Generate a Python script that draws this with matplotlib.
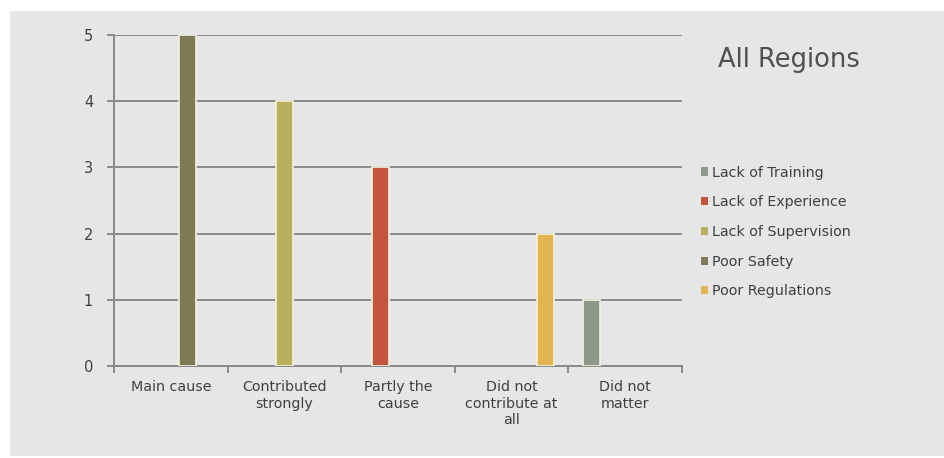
import numpy as np
import matplotlib.pyplot as plt
from matplotlib.patches import Rectangle

categories = ['Main cause', 'Contributed\nstrongly', 'Partly the\ncause',
              'Did not\ncontribute at\nall', 'Did not\nmatter']
series = ['Lack of Training', 'Lack of Experience', 'Lack of Supervision',
          'Poor Safety', 'Poor Regulations']
values = {
    'Lack of Training':    [0, 0, 0, 0, 1],
    'Lack of Experience':  [0, 0, 3, 0, 0],
    'Lack of Supervision': [0, 4, 0, 0, 0],
    'Poor Safety':         [5, 0, 0, 0, 0],
    'Poor Regulations':    [0, 0, 0, 2, 0],
}
colors = ['#8c9a8e', '#c2553c', '#b8b05c', '#7e7a55', '#e3b552']

plt.rcParams['font.family'] = ['DejaVu Sans']

fig = plt.figure(figsize=(9.45, 4.58), dpi=100)
fig.patch.set_facecolor('white')

# slide background
bg = fig.add_axes([0, 0, 1, 1], zorder=-1)
bg.axis('off')
bg.add_patch(Rectangle((10 / 945, 2 / 458), 1, 445 / 458,
                       transform=bg.transAxes, facecolor='#e6e6e6',
                       edgecolor='none'))

ax = fig.add_axes([114 / 945, 92 / 458, 568 / 945, 331 / 458], zorder=1)
ax.set_facecolor('none')

x = np.arange(len(categories))
w = 0.15
for i, s in enumerate(series):
    v = values[s]
    lw = [1.2 if h else 0 for h in v]
    ax.bar(x + (i - 2) * w, v, w, color=colors[i], label=s,
           edgecolor='#f4f2dc', linewidth=lw, zorder=3)

ax.set_xlim(-0.5, len(categories) - 0.5)
ax.set_ylim(0, 5)
ax.set_yticks(range(6))
ax.yaxis.grid(True, color='#8a8a8a', linewidth=1.4, zorder=1)
ax.set_axisbelow(True)

for sp in ['top', 'right']:
    ax.spines[sp].set_visible(False)
for sp in ['left', 'bottom']:
    ax.spines[sp].set_color('#8a8a8a')
    ax.spines[sp].set_linewidth(1.4)

ax.set_xticks(x)
ax.set_xticklabels(categories, fontsize=10.3, color='#404040', linespacing=1.25)
ax.set_xticks(np.arange(-0.5, len(categories)), minor=True)
ax.tick_params(axis='x', which='major', length=0, pad=10)
ax.tick_params(axis='x', which='minor', length=5, color='#8a8a8a', width=1.4)
ax.tick_params(axis='y', length=5, color='#8a8a8a', width=1.4,
               labelsize=10.5, labelcolor='#404040', pad=10)

fig.text(718 / 945, 1 - 60 / 458, 'All Regions', fontsize=18.5,
         color='#505050', va='center', ha='left')

leg = ax.legend(loc='center left', bbox_to_anchor=(701 / 945, 1 - 232 / 458),
                bbox_transform=fig.transFigure, frameon=False, fontsize=10.3,
                handlelength=0.5, handleheight=0.5, handletextpad=0.3,
                labelspacing=1.1, borderaxespad=0, borderpad=0)
for h in leg.legend_handles:
    h.set_linewidth(0)
for t in leg.get_texts():
    t.set_color('#404040')

fig.savefig('out.png', dpi=100, facecolor=fig.get_facecolor())
